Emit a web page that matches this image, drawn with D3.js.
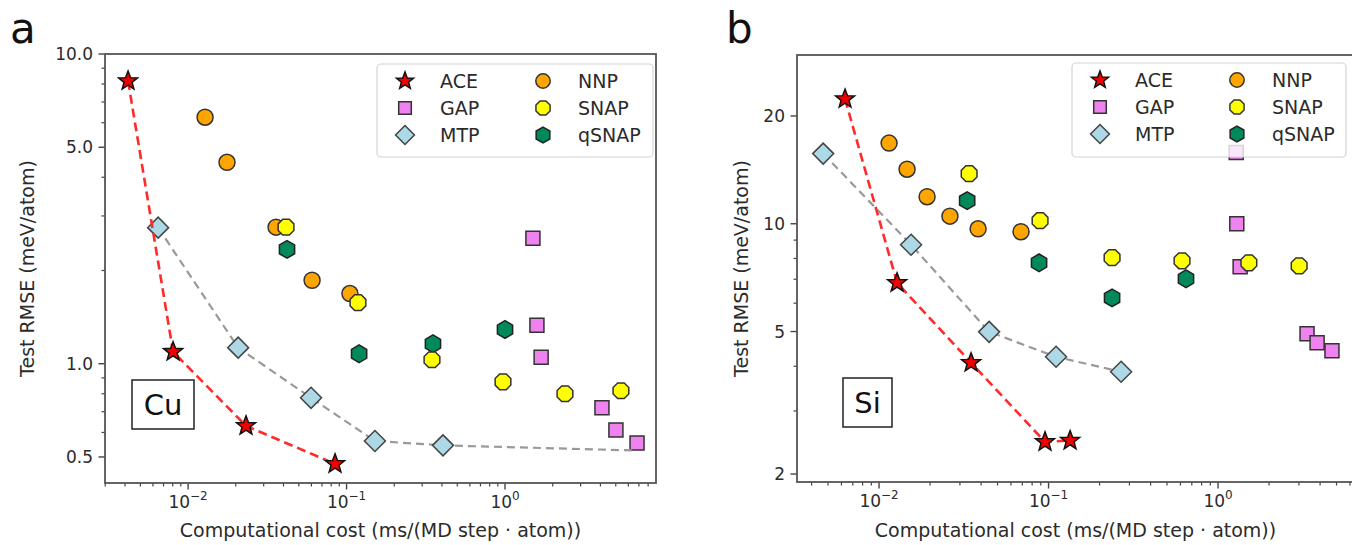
<!DOCTYPE html>
<html>
<head>
<meta charset="utf-8">
<script src="https://cdn.jsdelivr.net/npm/d3@7"></script>
<style>
  body { margin: 0; background: #fff; }
  svg { font-family: "DejaVu Sans", sans-serif; }
</style>
</head>
<body>
<div id="chart"></div>
<script>
// ---- data: cost in ms/(MD step*atom), RMSE in meV/atom ----
const seriesNames = ["ACE", "GAP", "MTP", "NNP", "SNAP", "qSNAP"];

// Cu
const cuAceCost = [0.00418, 0.00804, 0.0232, 0.0846];
const cuAceRmse = [8.18, 1.093, 0.630, 0.475];
const cuMtpCost = [0.00647, 0.0207, 0.0597, 0.151, 0.406];
const cuMtpRmse = [2.75, 1.127, 0.776, 0.563, 0.545];
const cuMtpLineCost = [0.00647, 0.0207, 0.0597, 0.151, 0.406, 6.3];
const cuMtpLineRmse = [2.75, 1.127, 0.776, 0.563, 0.545, 0.525];
const cuGapCost = [1.50, 1.59, 1.69, 4.09, 5.01, 6.81];
const cuGapRmse = [2.54, 1.33, 1.05, 0.721, 0.611, 0.555];
const cuNnpCost = [0.0128, 0.0176, 0.0359, 0.0606, 0.105];
const cuNnpRmse = [6.25, 4.47, 2.76, 1.86, 1.685];
const cuSnapCost = [0.0415, 0.118, 0.346, 0.971, 2.39, 5.39];
const cuSnapRmse = [2.76, 1.575, 1.03, 0.874, 0.80, 0.818];
const cuQsnapCost = [0.0421, 0.120, 0.351, 1.0];
const cuQsnapRmse = [2.34, 1.077, 1.16, 1.29];

// Si
const siAceCost = [0.00630, 0.01277, 0.0349, 0.0953, 0.134];
const siAceRmse = [22.3, 6.84, 4.09, 2.46, 2.48];
const siMtpCost = [0.00468, 0.01545, 0.0446, 0.1107, 0.268];
const siMtpRmse = [15.7, 8.74, 4.99, 4.25, 3.86];
const siGapCost = [1.28, 1.29, 1.35, 3.35, 3.84, 4.70];
const siGapRmse = [15.8, 10.0, 7.59, 4.93, 4.65, 4.42];
const siNnpCost = [0.01146, 0.01463, 0.0192, 0.0262, 0.0384, 0.0688];
const siNnpRmse = [16.8, 14.2, 11.9, 10.5, 9.68, 9.50];
const siSnapCost = [0.0340, 0.0891, 0.237, 0.613, 1.52, 3.01];
const siSnapRmse = [13.8, 10.2, 8.04, 7.88, 7.78, 7.63];
const siQsnapCost = [0.0331, 0.0879, 0.237, 0.647];
const siQsnapRmse = [11.6, 7.78, 6.21, 7.02];

// ticks
const xTicks = [0.01, 0.1, 1];
const xTickExp = ["\u22122", "\u22121", "0"];
const cuYTicks = [0.5, 1, 5, 10];
const cuYTickLabels = ["0.5", "1.0", "5.0", "10.0"];
const siYTicks = [2, 5, 10, 20];
const siYTickLabels = ["2", "5", "10", "20"];

const zip = (xs, ys) => xs.map((x, i) => ({x: x, y: ys[i]}));

// ---- marker shapes, size = radius ----
function polygon(n, rot) {
    return {
        draw(ctx, r) {
            for (let i = 0; i < n; i++) {
                const a = rot + i * 2 * Math.PI / n;
                if (i === 0) ctx.moveTo(r * Math.cos(a), r * Math.sin(a));
                else ctx.lineTo(r * Math.cos(a), r * Math.sin(a));
            }
            ctx.closePath();
        }
    };
}
const shapes = {
    star: {
        draw(ctx, r) {
            for (let i = 0; i < 10; i++) {
                const a = -Math.PI / 2 + i * Math.PI / 5;
                const rr = i % 2 ? r * 0.42 : r;
                if (i === 0) ctx.moveTo(rr * Math.cos(a), rr * Math.sin(a));
                else ctx.lineTo(rr * Math.cos(a), rr * Math.sin(a));
            }
            ctx.closePath();
        }
    },
    square: {draw(ctx, r) { ctx.rect(-r, -r, 2 * r, 2 * r); }},
    diamond: polygon(4, -Math.PI / 2),
    circle: {draw(ctx, r) { ctx.moveTo(r, 0); ctx.arc(0, 0, r, 0, 2 * Math.PI); }},
    hexagon: polygon(6, -Math.PI / 2),
    octagon: polygon(8, Math.PI / 8)
};

const style = {
    ACE:   {shape: shapes.star,    r: 10,  fill: "#f00000", stroke: "#111"},
    GAP:   {shape: shapes.square,  r: 7,   fill: "#ee82ee", stroke: "#333"},
    MTP:   {shape: shapes.diamond, r: 10.5, fill: "#add8e6", stroke: "#444"},
    NNP:   {shape: shapes.circle,  r: 8,   fill: "#ffa500", stroke: "#333"},
    SNAP:  {shape: shapes.octagon, r: 8.5, fill: "#ffff00", stroke: "#333"},
    qSNAP: {shape: shapes.hexagon, r: 8.8, fill: "#008a5c", stroke: "#222"}
};

const W = 1352, H = 545;
const svg = d3.select("#chart").append("svg")
    .attr("width", W).attr("height", H);

const panels = [
    {
        id: "a", letter: "a", letterX: 10, letterY: 43,
        left: 105, right: 656, top: 54, bottom: 483,
        xDomain: [0.00299, 8.97], yDomain: [0.412, 10],
        yTicks: cuYTicks, yTickLabels: cuYTickLabels,
        label: "Cu", labelBox: [132, 380, 62, 49],
        legendBox: [377, 64, 276, 93], legendCols: [405, 543], legendRows: [81, 108, 135],
        ylabX: 34,
        series: {
            ACE: zip(cuAceCost, cuAceRmse), ACEline: zip(cuAceCost, cuAceRmse),
            MTP: zip(cuMtpCost, cuMtpRmse), MTPline: zip(cuMtpLineCost, cuMtpLineRmse),
            GAP: zip(cuGapCost, cuGapRmse), NNP: zip(cuNnpCost, cuNnpRmse),
            SNAP: zip(cuSnapCost, cuSnapRmse), qSNAP: zip(cuQsnapCost, cuQsnapRmse)
        }
    },
    {
        id: "b", letter: "b", letterX: 726, letterY: 43,
        left: 797, right: 1354, top: 55, bottom: 482,
        xDomain: [0.00328, 6.34], yDomain: [1.90, 29.6],
        yTicks: siYTicks, yTickLabels: siYTickLabels,
        label: "Si", labelBox: [843, 378, 49, 49],
        legendBox: [1072, 63, 274, 94], legendCols: [1100, 1237], legendRows: [80, 107, 134],
        ylabX: 748,
        series: {
            ACE: zip(siAceCost, siAceRmse), ACEline: zip(siAceCost, siAceRmse),
            MTP: zip(siMtpCost, siMtpRmse), MTPline: zip(siMtpCost, siMtpRmse),
            GAP: zip(siGapCost, siGapRmse), NNP: zip(siNnpCost, siNnpRmse),
            SNAP: zip(siSnapCost, siSnapRmse), qSNAP: zip(siQsnapCost, siQsnapRmse)
        }
    }
];

function logMinor(domain) {
    const out = [];
    for (let k = -4; k <= 2; k++) {
        for (let m = 1; m <= 9; m++) {
            const v = m * Math.pow(10, k);
            if (v >= domain[0] && v <= domain[1]) out.push(v);
        }
    }
    return out;
}

function drawMarkers(g, data, name, x, y) {
    const s = style[name];
    g.selectAll("path.m-" + name)
        .data(data)
        .enter()
        .append("path")
        .attr("class", "m-" + name)
        .attr("transform", d => `translate(${x(d.x)},${y(d.y)})`)
        .attr("d", d3.symbol(s.shape, s.r))
        .attr("fill", s.fill)
        .attr("stroke", s.stroke)
        .attr("stroke-width", 1.5);
}

panels.forEach(p => {
    const x = d3.scaleLog().domain(p.xDomain).range([p.left, p.right]);
    const y = d3.scaleLog().domain(p.yDomain).range([p.bottom, p.top]);
    const g = svg.append("g");

    g.append("clipPath").attr("id", "clip-" + p.id)
        .append("rect")
        .attr("x", p.left).attr("y", p.top)
        .attr("width", p.right - p.left).attr("height", p.bottom - p.top);

    // ticks
    const tickColor = "#444";
    const minorX = logMinor(p.xDomain).filter(v => !xTicks.includes(v));
    const minorY = logMinor(p.yDomain).filter(v => !p.yTicks.includes(v));
    g.selectAll("line.xminor").data(minorX).enter().append("line")
        .attr("x1", d => x(d)).attr("x2", d => x(d))
        .attr("y1", p.bottom).attr("y2", p.bottom + 3.5)
        .attr("stroke", tickColor).attr("stroke-width", 1.2);
    g.selectAll("line.xmajor").data(xTicks).enter().append("line")
        .attr("x1", d => x(d)).attr("x2", d => x(d))
        .attr("y1", p.bottom).attr("y2", p.bottom + 6.5)
        .attr("stroke", tickColor).attr("stroke-width", 1.4);
    g.selectAll("line.yminor").data(minorY).enter().append("line")
        .attr("y1", d => y(d)).attr("y2", d => y(d))
        .attr("x1", p.left).attr("x2", p.left - 3.5)
        .attr("stroke", tickColor).attr("stroke-width", 1.2);
    g.selectAll("line.ymajor").data(p.yTicks).enter().append("line")
        .attr("y1", d => y(d)).attr("y2", d => y(d))
        .attr("x1", p.left).attr("x2", p.left - 6.5)
        .attr("stroke", tickColor).attr("stroke-width", 1.4);

    // tick labels
    const xl = g.selectAll("text.xtick").data(xTicks).enter().append("text")
        .attr("x", d => x(d)).attr("y", p.bottom + 25)
        .attr("text-anchor", "middle")
        .attr("font-size", 17).attr("fill", "#2b2b2b");
    xl.append("tspan").text("10");
    xl.append("tspan").attr("dy", -8).attr("font-size", 12)
        .text((d, i) => xTickExp[i]);

    g.selectAll("text.ytick").data(p.yTicks).enter().append("text")
        .attr("x", p.left - 12).attr("y", d => y(d) + 6)
        .attr("text-anchor", "end")
        .attr("font-size", 17).attr("fill", "#2b2b2b")
        .text((d, i) => p.yTickLabels[i]);

    // axis labels
    g.append("text")
        .attr("x", (p.left + p.right) / 2).attr("y", 537)
        .attr("text-anchor", "middle").attr("font-size", 19).attr("fill", "#2b2b2b")
        .text("Computational cost (ms/(MD step \u00b7 atom))");
    g.append("text")
        .attr("transform", `translate(${p.ylabX},${(p.top + p.bottom) / 2}) rotate(-90)`)
        .attr("text-anchor", "middle").attr("font-size", 19).attr("fill", "#2b2b2b")
        .text("Test RMSE (meV/atom)");

    // panel letter
    g.append("text").attr("x", p.letterX).attr("y", p.letterY)
        .attr("font-size", 42).attr("fill", "#111").text(p.letter);

    // data
    const plot = g.append("g").attr("clip-path", `url(#clip-${p.id})`);
    const line = d3.line().x(d => x(d.x)).y(d => y(d.y));

    drawMarkers(plot, p.series.GAP, "GAP", x, y);
    plot.append("path").datum(p.series.MTPline)
        .attr("d", line).attr("fill", "none")
        .attr("stroke", "#999").attr("stroke-width", 2.2)
        .attr("stroke-dasharray", "8,5");
    drawMarkers(plot, p.series.MTP, "MTP", x, y);
    plot.append("path").datum(p.series.ACEline)
        .attr("d", line).attr("fill", "none")
        .attr("stroke", "#ff2a2a").attr("stroke-width", 2.6)
        .attr("stroke-dasharray", "9,5");
    drawMarkers(plot, p.series.ACE, "ACE", x, y);
    drawMarkers(plot, p.series.NNP, "NNP", x, y);
    drawMarkers(plot, p.series.qSNAP, "qSNAP", x, y);
    drawMarkers(plot, p.series.SNAP, "SNAP", x, y);

    // element label box
    const lb = p.labelBox;
    g.append("rect").attr("x", lb[0]).attr("y", lb[1])
        .attr("width", lb[2]).attr("height", lb[3])
        .attr("fill", "#fff").attr("stroke", "#222").attr("stroke-width", 1.5);
    g.append("text").attr("x", lb[0] + lb[2] / 2).attr("y", lb[1] + lb[3] / 2 + 10)
        .attr("text-anchor", "middle").attr("font-size", 29).attr("fill", "#111")
        .text(p.label);

    // legend
    const b = p.legendBox;
    const leg = g.append("g");
    leg.append("rect").attr("x", b[0]).attr("y", b[1])
        .attr("width", b[2]).attr("height", b[3]).attr("rx", 4)
        .attr("fill", "#fff").attr("fill-opacity", 0.8)
        .attr("stroke", "#d4d4d4").attr("stroke-width", 1.2);
    const items = leg.selectAll("g.item").data(seriesNames).enter().append("g")
        .attr("transform", (d, i) => `translate(${p.legendCols[Math.floor(i / 3)]},${p.legendRows[i % 3]})`);
    items.append("path")
        .attr("d", d => d3.symbol(style[d].shape, style[d].r * 0.9)())
        .attr("fill", d => style[d].fill)
        .attr("stroke", d => style[d].stroke)
        .attr("stroke-width", 1.5);
    items.append("text").attr("x", 35).attr("y", 7)
        .attr("font-size", 19).attr("fill", "#2b2b2b")
        .text(d => d);

    // spines
    g.append("rect").attr("x", p.left).attr("y", p.top)
        .attr("width", p.right - p.left).attr("height", p.bottom - p.top)
        .attr("fill", "none").attr("stroke", "#555").attr("stroke-width", 1.8);
});
</script>
</body>
</html>
